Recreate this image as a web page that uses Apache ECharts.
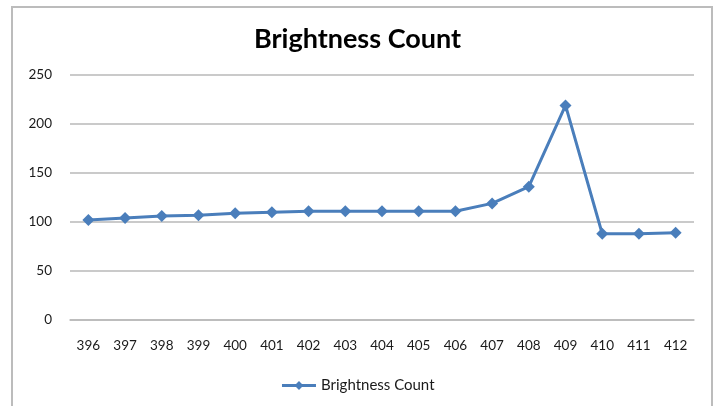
<!DOCTYPE html>
<html>
<head>
<meta charset="utf-8">
<script src="https://cdn.jsdelivr.net/npm/echarts@6/dist/echarts.min.js"></script>
<style>
  html, body { margin: 0; padding: 0; background: #ffffff; }
  #chart { width: 715px; height: 406px; }
</style>
</head>
<body>
<div id="chart"></div>
<script>
// Brightness levels along the x axis
const levels = ['396', '397', '398', '399', '400', '401', '402', '403', '404', '405', '406', '407', '408', '409', '410', '411', '412'];
// Count recorded at each brightness level
const brightnessCount = [102, 104, 106, 107, 109, 110, 111, 111, 111, 111, 111, 119, 136, 219, 88, 88, 89];
// Value axis ticks
const yTicks = [0, 50, 100, 150, 200, 250];

const seriesName = 'Brightness Count';
const lineColor = '#4a7ebb';
const textFont = 'Lato, "Open Sans", sans-serif';

const chart = echarts.init(document.getElementById('chart'), null, { renderer: 'canvas' });

chart.setOption({
  animation: false,
  backgroundColor: '#ffffff',
  graphic: [{
    type: 'rect',
    shape: { x: 12, y: 7, width: 700, height: 430 },
    style: { fill: 'none', stroke: '#bcbcbc', lineWidth: 2 },
    silent: true
  }],
  title: {
    text: 'Brightness Count',
    left: 'center',
    top: 21,
    textStyle: { fontFamily: textFont, fontSize: 27, fontWeight: 'bold', color: '#000000' }
  },
  legend: {
    data: [seriesName],
    bottom: 8,
    left: 'center',
    itemWidth: 34,
    itemHeight: 11,
    itemGap: 4,
    lineStyle: { width: 3 },
    textStyle: { fontFamily: textFont, fontSize: 15, color: '#1a1a1a' }
  },
  grid: { left: 70, right: 21, top: 75, bottom: 86, containLabel: false },
  xAxis: {
    type: 'category',
    data: levels,
    boundaryGap: true,
    axisLine: { show: true, lineStyle: { color: '#b9b9b9', width: 1.5 } },
    axisTick: { show: false },
    axisLabel: { margin: 19, fontFamily: textFont, fontSize: 13.5, color: '#1a1a1a' }
  },
  yAxis: {
    type: 'value',
    min: yTicks[0],
    max: yTicks[yTicks.length - 1],
    interval: yTicks[1] - yTicks[0],
    axisLine: { show: false },
    axisTick: { show: false },
    splitLine: { lineStyle: { color: '#b9b9b9', width: 1.5 } },
    axisLabel: { margin: 18, fontFamily: textFont, fontSize: 13.5, color: '#1a1a1a' }
  },
  series: [{
    name: seriesName,
    type: 'line',
    data: brightnessCount,
    symbol: 'diamond',
    symbolSize: 12,
    itemStyle: { color: lineColor },
    lineStyle: { color: lineColor, width: 3 }
  }]
});
</script>
</body>
</html>
